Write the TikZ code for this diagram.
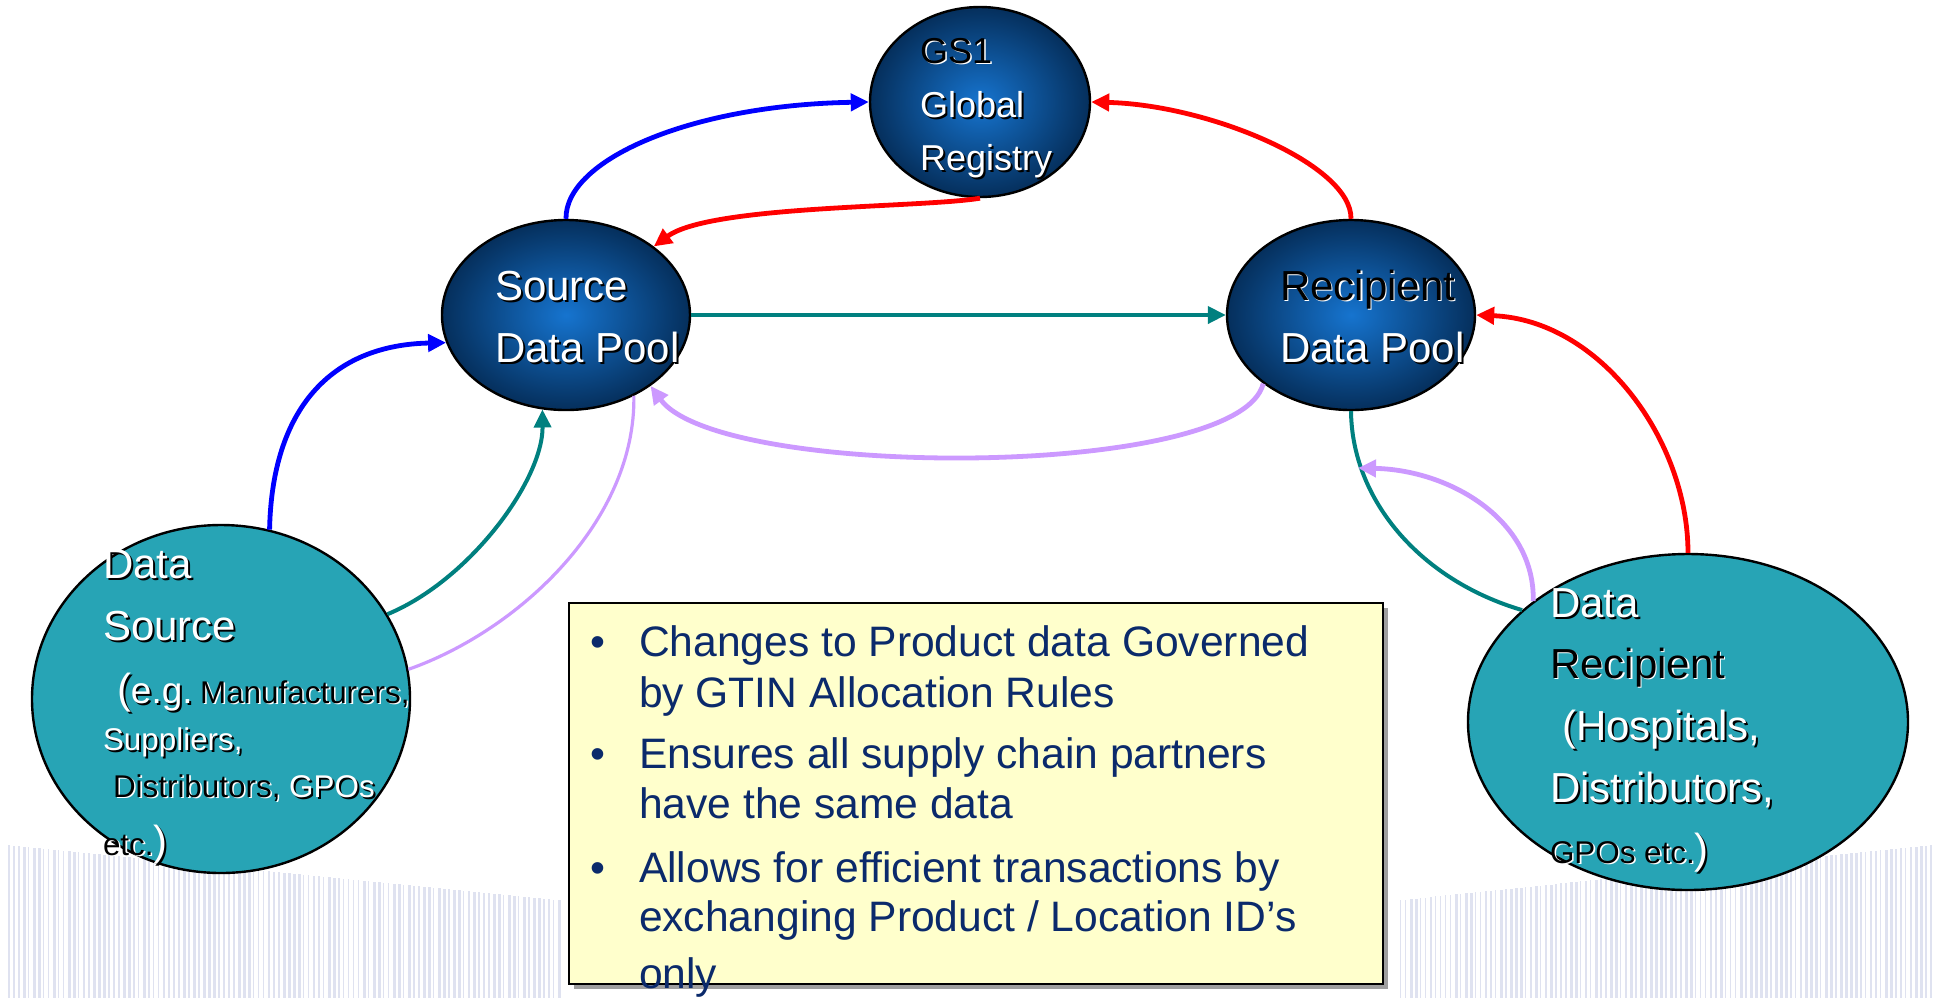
\documentclass[tikz,border=0pt]{standalone}
\usepackage{fontspec}
\setmainfont{Liberation Sans}
\usetikzlibrary{arrows.meta,shapes.geometric,shadows}
\definecolor{poolin}{HTML}{1674CF}
\definecolor{poolout}{HTML}{052F5C}
\definecolor{tealfill}{HTML}{27A4B5}
\definecolor{cteal}{HTML}{00807F}
\definecolor{clav}{HTML}{CC99FF}
\definecolor{cblue}{HTML}{0000FF}
\definecolor{cred}{HTML}{FF0000}
\definecolor{navy}{HTML}{0B2A6B}
\definecolor{boxfill}{HTML}{FFFFCC}
\definecolor{wm}{HTML}{DFE2F0}
\newcommand\wt[1]{\rlap{\kern1pt\raisebox{-1pt}{\textcolor{black}{#1}}}\textcolor{white}{#1}}
\newcommand\bt[1]{\rlap{\kern0.8pt\raisebox{-0.8pt}{\textcolor{white}{#1}}}\textcolor{black}{#1}}
\begin{document}
\begin{tikzpicture}[x=0.5pt,y=-0.5pt,
  pool/.style={ellipse, draw=black, line width=1.2pt, inner color=poolin, outer color=poolout, inner sep=0pt},
  party/.style={ellipse, draw=black, line width=1.2pt, fill=tealfill, inner sep=0pt},
  lbl/.style={anchor=base west, inner sep=0pt, outer sep=0pt},
  big/.style={font=\fontsize{21}{25}\selectfont},
  mid/.style={font=\fontsize{18}{22}\selectfont},
  small/.style={font=\fontsize{15.7}{19}\selectfont},
  boxtxt/.style={lbl, text=navy, font=\fontsize{21.3}{25}\selectfont},
  conn/.style={line width=2.4pt},
  thinconn/.style={line width=2pt},
  tip/.style={-{Triangle[length=9pt,width=8.5pt]}},
]
\useasboundingbox (0,0) rectangle (1939,998);
\fill[white] (0,0) rectangle (1939,998);

% faint barcode watermark
\pgfmathsetseed{12}
\foreach \i in {0,...,110} {
  \pgfmathsetmacro\xx{8+\i*5}
  \pgfmathsetmacro\ww{0.8+2.6*rnd}
  \pgfmathsetmacro\tp{845+0.1*(\xx-8)}
  \fill[wm] (\xx,\tp) rectangle (\xx+\ww,998);
}
\foreach \i in {0,...,106} {
  \pgfmathsetmacro\xx{1400+\i*5}
  \pgfmathsetmacro\ww{0.8+2.6*rnd}
  \pgfmathsetmacro\tp{845+0.104*(1930-\xx)}
  \fill[wm] (\xx,\tp) rectangle (\xx+\ww,998);
}

% ellipses
\node[pool, minimum width=110pt, minimum height=95pt] (gs) at (980,102) {};
\node[pool, minimum width=124pt, minimum height=95pt] (src) at (566,315) {};
\node[pool, minimum width=124pt, minimum height=95pt] (rcp) at (1351,315) {};
\node[party, minimum width=189pt, minimum height=174pt] (ds) at (221,699) {};
\node[party, minimum width=220pt, minimum height=168pt] (dr) at (1688,722) {};

% connectors
\draw[conn, cblue, tip] (src.90) .. controls (565,160) and (690,105) .. (gs.180);
\draw[conn, cred, tip] (gs.270) .. controls (920,208) and (710,205) .. (src.38);
\draw[conn, cred, tip] (rcp.90) .. controls (1352,165) and (1210,105) .. (gs.0);
\draw[thinconn, cteal, tip] (src.0) -- (rcp.180);
\draw[conn, clav, tip] (rcp.-142) .. controls (1240,480) and (720,480) .. (src.-40);
\draw[line width=1.6pt, clav] (ds.9) .. controls (520,630) and (636,520) .. (src.-50);
\draw[thinconn, cteal, tip] (ds.27) .. controls (470,580) and (543,480) .. (src.-104);
\draw[conn, cblue, tip] (ds.74) .. controls (272,410) and (330,345) .. (src.-167);
\draw[thinconn, cteal] (rcp.270) .. controls (1352,500) and (1420,580) .. (dr.146);
\coordinate (lavend) at (1358,468);
\draw[conn, clav, tip] (dr.142) .. controls (1535,520) and (1450,470) .. (lavend);
\draw[conn, cred, tip] (dr.90) .. controls (1688,440) and (1600,320) .. (rcp.0);

% ellipse texts
\node[lbl, mid] (gs1) at (920,63) {\bt{GS1}};
\node[lbl, mid] (gs2) at (920,117) {\wt{Global}};
\node[lbl, mid] (gs3) at (920,170) {\wt{Registry}};
\node[lbl, big] (src1) at (495,300) {\wt{Source}};
\node[lbl, big] (src2) at (495,362) {\wt{Data Pool}};
\node[lbl, big] (rcp1) at (1280,300) {\bt{Recipient}};
\node[lbl, big] (rcp2) at (1280,362) {\wt{Data Pool}};

\node[lbl, big] (ds1) at (103,578) {\wt{Data}};
\node[lbl, big] (ds2) at (103,640) {\wt{Source}};
\node[lbl] (ds3) at (117,703) {{\fontsize{21}{25}\selectfont\wt{(}}{\fontsize{18.5}{22}\selectfont\wt{e.g.}} {\fontsize{15.7}{19}\selectfont\bt{Manufacturers,}}};
\node[lbl, small] (ds4) at (103,750) {\wt{Suppliers,}};
\node[lbl, small] (ds5) at (113,797) {\bt{Distributors,} \wt{GPOs}};
\node[lbl] (ds6) at (103,855) {{\fontsize{15.7}{19}\selectfont\bt{etc.}}{\fontsize{21}{25}\selectfont\wt{)}}};

\node[lbl, big] (dr1) at (1550,617) {\wt{Data}};
\node[lbl, big] (dr2) at (1550,678) {\bt{Recipient}};
\node[lbl, big] (dr3) at (1562,740) {\wt{(Hospitals,}};
\node[lbl, big] (dr4) at (1550,802) {\wt{Distributors,}};
\node[lbl] (dr5) at (1550,863) {{\fontsize{15.7}{19}\selectfont\bt{GPOs etc.}}{\fontsize{21}{25}\selectfont\wt{)}}};

% text box
\node[draw=black, line width=0.9pt, fill=boxfill, minimum width=407pt, minimum height=190.5pt, inner sep=0pt,
      drop shadow={shadow xshift=2.5pt, shadow yshift=-2.5pt, fill=gray!75, opacity=1}] (box) at (976,793.5) {};
\node[boxtxt] (bu1) at (590,656) {•};
\node[boxtxt] (t1a) at (639,656) {Changes to Product data Governed};
\node[boxtxt] (t1b) at (639,707) {by GTIN Allocation Rules};
\node[boxtxt] (bu2) at (590,768) {•};
\node[boxtxt] (t2a) at (639,768) {Ensures all supply chain partners};
\node[boxtxt] (t2b) at (639,818) {have the same data};
\node[boxtxt] (bu3) at (590,882) {•};
\node[boxtxt] (t3a) at (639,882) {Allows for efficient transactions by};
\node[boxtxt] (t3b) at (639,931) {exchanging Product / Location ID’s};
\node[boxtxt] (t3c) at (639,988) {only};
\end{tikzpicture}
\end{document}
